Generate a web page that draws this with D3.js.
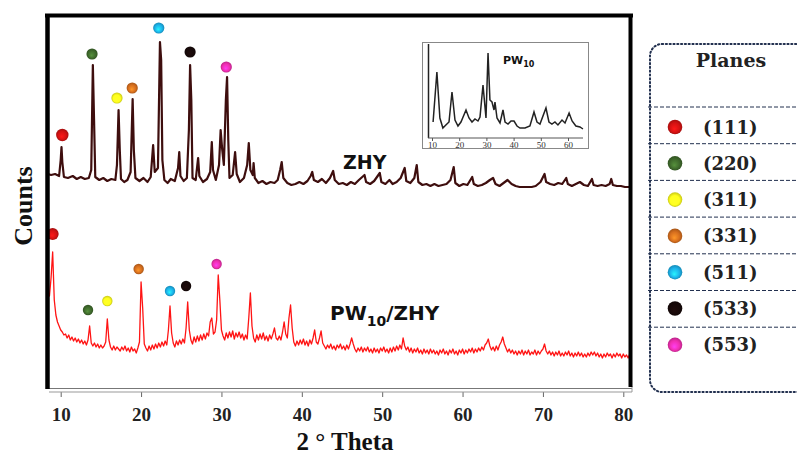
<!DOCTYPE html>
<html><head><meta charset="utf-8">
<script src="https://cdn.jsdelivr.net/npm/d3@7"></script>
<style>body{margin:0;background:#fff}svg{display:block}</style>
</head><body><svg id="c" width="797" height="457"></svg>
<script>
// ---------- DATA ----------
const planes = ["(111)","(220)","(311)","(331)","(511)","(533)","(553)"];
const planeColors = ["#d41212","#3f6a2c","#ffff1e","#d66e1e","#1cb2ea","#170909","#f02eb0"];
const xTicks = [10,20,30,40,50,60,70,80];
const insetTicks = [10,20,30,40,50,60];
const seriesNames = ["ZHY","PW10/ZHY"];

// ZHY pattern: [2θ, counts]
const zhy = [[8.3,214],[8.8,213],[9.3,214],[9.8,212],[10.0,228],[10.1,241],[10.2,226],[10.4,211],[10.9,210],[11.5,212],[12.0,209],[12.5,211],[13.0,209],[13.5,210],[13.8,218],[14.0,323],[14.15,268],[14.3,211],[14.8,208],[15.3,210],[15.8,207],[16.3,209],[16.8,208],[17.0,223],[17.2,278],[17.35,238],[17.5,209],[17.9,206],[18.3,208],[18.7,216],[18.95,289],[19.1,238],[19.3,210],[19.8,207],[20.3,210],[20.8,206],[21.2,211],[21.5,243],[21.7,216],[22.1,220],[22.35,346],[22.5,328],[22.65,228],[22.9,208],[23.3,205],[23.7,209],[24.2,207],[24.6,220],[24.75,236],[24.9,212],[25.3,207],[25.7,210],[25.95,258],[26.1,323],[26.25,288],[26.4,210],[26.8,208],[27.0,223],[27.1,230],[27.25,212],[27.7,206],[28.2,209],[28.6,216],[28.8,246],[28.95,218],[29.3,208],[29.7,223],[29.9,258],[30.1,238],[30.3,223],[30.55,288],[30.7,311],[30.85,248],[31.0,210],[31.4,213],[31.7,236],[31.9,214],[32.3,206],[32.8,210],[33.2,223],[33.4,245],[33.6,218],[33.9,213],[34.0,225],[34.15,210],[34.6,205],[35.1,207],[35.6,204],[36.1,206],[36.6,205],[37.0,208],[37.3,218],[37.5,226],[37.7,210],[38.2,205],[38.7,203],[39.2,204],[39.7,206],[40.2,204],[40.7,207],[41.1,212],[41.3,216],[41.5,208],[42.0,206],[42.5,209],[43.0,205],[43.5,210],[43.9,217],[44.1,208],[44.6,204],[45.1,205],[45.6,203],[46.1,206],[46.6,204],[47.1,208],[47.8,213],[48.0,206],[48.5,204],[49.0,207],[49.7,215],[49.9,206],[50.4,204],[50.9,208],[51.3,204],[51.8,206],[52.3,210],[52.8,220],[53.0,207],[53.5,205],[54.0,210],[54.3,223],[54.5,206],[55.0,203],[55.5,204],[56.0,202],[56.5,204],[57.0,202],[57.5,203],[58.0,204],[58.5,208],[58.9,221],[59.1,205],[59.6,202],[60.1,204],[60.6,203],[61.2,211],[61.4,204],[61.9,202],[62.4,203],[62.9,205],[63.4,208],[63.8,210],[64.1,204],[64.6,202],[65.1,205],[65.6,208],[66.1,204],[66.6,202],[67.1,201],[67.6,201],[68.1,201],[68.6,201],[69.1,202],[69.7,206],[70.2,214],[70.4,206],[70.9,204],[71.4,203],[71.9,205],[72.4,204],[72.9,210],[73.1,204],[73.6,202],[74.1,204],[74.6,206],[75.1,203],[75.6,202],[76.1,209],[76.3,203],[76.8,202],[77.3,203],[77.8,202],[78.3,204],[78.5,209],[78.7,203],[79.2,202],[79.7,202],[80.2,201],[80.7,201],[81.3,202]];

// PW10/ZHY pattern: [2θ, counts]
const pwzhy = [[8.2,80],[8.4,95],[8.6,92],[8.8,110],[9.0,136],[9.2,88],[9.4,73],[9.6,66],[9.8,62],[10.0,58],[10.2,56],[10.4,53],[10.6,54],[10.8,50],[11.0,53],[11.2,48],[11.4,51],[11.6,47],[11.8,50],[12.0,46],[12.2,49],[12.4,45],[12.6,48],[12.8,44],[13.0,47],[13.2,43],[13.4,48],[13.6,62],[13.8,45],[14.0,42],[14.2,45],[14.4,41],[14.6,44],[14.8,40],[15.0,43],[15.2,40],[15.4,42],[15.6,46],[15.8,69],[16.0,48],[16.2,41],[16.4,38],[16.6,42],[16.8,38],[17.0,41],[17.2,39],[17.4,37],[17.6,41],[17.8,38],[18.0,42],[18.2,37],[18.4,40],[18.6,36],[18.8,41],[19.0,37],[19.2,39],[19.4,35],[19.6,40],[19.8,46],[20.0,106],[20.2,80],[20.4,44],[20.6,40],[20.8,37],[21.0,42],[21.2,38],[21.4,43],[21.6,39],[21.8,44],[22.0,40],[22.2,45],[22.4,41],[22.6,46],[22.8,42],[23.0,47],[23.2,43],[23.4,58],[23.6,82],[23.8,55],[24.0,45],[24.2,41],[24.4,47],[24.6,43],[24.8,48],[25.0,44],[25.2,49],[25.4,45],[25.6,60],[25.8,86],[26.0,58],[26.2,48],[26.4,44],[26.6,51],[26.8,46],[27.0,52],[27.2,47],[27.4,53],[27.6,48],[27.8,54],[28.0,49],[28.2,55],[28.4,52],[28.6,66],[28.8,70],[29.0,54],[29.2,56],[29.4,68],[29.6,113],[29.8,88],[30.0,58],[30.2,52],[30.4,48],[30.6,55],[30.8,50],[31.0,56],[31.2,51],[31.4,57],[31.6,49],[31.8,55],[32.0,51],[32.2,56],[32.4,50],[32.6,54],[32.8,48],[33.0,53],[33.2,49],[33.4,70],[33.6,95],[33.8,62],[34.0,50],[34.2,46],[34.4,53],[34.6,48],[34.8,54],[35.0,49],[35.2,55],[35.4,48],[35.6,52],[35.8,47],[36.0,53],[36.2,49],[36.4,54],[36.6,60],[36.8,50],[37.0,48],[37.2,52],[37.4,48],[37.6,56],[37.8,66],[38.0,54],[38.2,50],[38.4,70],[38.6,83],[38.8,60],[39.0,46],[39.2,42],[39.4,47],[39.6,43],[39.8,48],[40.0,44],[40.2,49],[40.4,43],[40.6,47],[40.8,42],[41.0,48],[41.2,44],[41.4,50],[41.6,58],[41.8,46],[42.0,44],[42.2,50],[42.4,57],[42.6,45],[42.8,42],[43.0,39],[43.2,43],[43.4,40],[43.6,44],[43.8,39],[44.0,42],[44.2,38],[44.4,43],[44.6,40],[44.8,44],[45.0,39],[45.2,42],[45.4,38],[45.6,43],[45.8,39],[46.0,44],[46.2,50],[46.4,44],[46.6,39],[46.8,36],[47.0,40],[47.2,37],[47.4,41],[47.6,36],[47.8,40],[48.0,37],[48.2,41],[48.4,36],[48.6,39],[48.8,35],[49.0,40],[49.2,36],[49.4,39],[49.6,35],[49.8,40],[50.0,37],[50.2,41],[50.4,36],[50.6,39],[50.8,35],[51.0,40],[51.2,36],[51.4,41],[51.6,37],[51.8,42],[52.0,38],[52.2,43],[52.4,39],[52.6,50],[52.8,42],[53.0,38],[53.2,41],[53.4,36],[53.6,40],[53.8,35],[54.0,39],[54.2,36],[54.4,40],[54.6,35],[54.8,38],[55.0,34],[55.2,39],[55.4,35],[55.6,38],[55.8,34],[56.0,39],[56.2,35],[56.4,38],[56.6,34],[56.8,37],[57.0,33],[57.2,38],[57.4,35],[57.6,39],[57.8,34],[58.0,37],[58.2,33],[58.4,38],[58.6,35],[58.8,39],[59.0,34],[59.2,37],[59.4,33],[59.6,38],[59.8,35],[60.0,39],[60.2,34],[60.4,38],[60.6,35],[60.8,39],[61.0,36],[61.2,40],[61.4,35],[61.6,39],[61.8,36],[62.0,40],[62.2,37],[62.4,41],[62.6,38],[62.8,43],[63.0,45],[63.2,49],[63.4,42],[63.6,38],[63.8,41],[64.0,37],[64.2,42],[64.4,38],[64.6,43],[64.8,46],[65.0,51],[65.2,44],[65.4,40],[65.6,36],[65.8,39],[66.0,35],[66.2,38],[66.4,34],[66.6,37],[66.8,33],[67.0,37],[67.2,34],[67.4,38],[67.6,33],[67.8,37],[68.0,34],[68.2,38],[68.4,33],[68.6,36],[68.8,34],[69.0,38],[69.2,33],[69.4,37],[69.6,34],[69.8,37],[70.0,39],[70.2,44],[70.4,37],[70.6,34],[70.8,37],[71.0,33],[71.2,36],[71.4,32],[71.6,36],[71.8,33],[72.0,37],[72.2,32],[72.4,35],[72.6,32],[72.8,36],[73.0,33],[73.2,37],[73.4,32],[73.6,35],[73.8,31],[74.0,35],[74.2,32],[74.4,36],[74.6,32],[74.8,35],[75.0,31],[75.2,34],[75.4,31],[75.6,35],[75.8,32],[76.0,36],[76.2,33],[76.4,36],[76.6,32],[76.8,35],[77.0,31],[77.2,34],[77.4,30],[77.6,34],[77.8,31],[78.0,35],[78.2,32],[78.4,34],[78.6,30],[78.8,34],[79.0,31],[79.2,35],[79.4,32],[79.6,34],[79.8,30],[80.0,34],[80.2,31],[80.4,33],[80.6,30],[80.8,34],[81.0,31]];

// Inset PW10 pattern: [2θ, counts]
const pw10 = [[10.4,16],[11.8,66],[12.9,20],[14.0,10],[15.1,13],[16.25,16],[17.35,46],[18.45,18],[19.55,12],[20.65,16],[22.5,28],[23.6,20],[24.7,16],[25.8,19],[26.9,17],[27.65,21],[28.75,53],[29.85,20],[30.6,85],[31.3,38],[32.05,36],[32.8,28],[33.15,36],[33.9,20],[35.0,15],[36.1,28],[36.85,16],[37.95,14],[39.05,17],[40.15,17],[41.25,12],[42.35,10],[44.2,10],[46.0,12],[47.5,26],[48.6,16],[49.7,14],[51.9,30],[53.0,16],[54.1,14],[55.2,16],[56.3,13],[57.8,18],[58.9,15],[60.4,25],[61.5,17],[62.9,12],[64.4,11],[65.5,9]];

// plane marker positions [2θ, counts]
const zhyMarkers = [[10.2,253],[13.9,334],[17.0,290],[18.9,300],[22.2,360],[26.1,336],[30.6,321]];
const pwMarkers = [[9.0,154],[13.4,78],[15.8,87],[19.7,119],[23.6,97],[25.6,102],[29.4,124]];

// ---------- DRAW ----------
const svg = d3.select("#c");
const defs = svg.append("defs");
planeColors.forEach((c,i)=>{
  const g = defs.append("radialGradient").attr("id","g"+i).attr("cx","50%").attr("cy","50%").attr("r","50%").attr("fx","45%").attr("fy","65%");
  g.append("stop").attr("offset","0%").attr("stop-color",d3.color(c).brighter(0.9));
  g.append("stop").attr("offset","65%").attr("stop-color",c);
  g.append("stop").attr("offset","100%").attr("stop-color",d3.color(c).darker(0.7));
});
defs.append("clipPath").attr("id","plotclip").append("rect").attr("x",49).attr("y",17).attr("width",580).attr("height",371);

const x = d3.scaleLinear().domain([10,80]).range([60.7,623.3]);
const y = d3.scaleLinear().domain([0,373]).range([388,15]);

const line = d3.line().x(d=>x(d[0])).y(d=>y(d[1]));
const plot = svg.append("g").attr("clip-path","url(#plotclip)");
plot.append("path").datum(pwzhy).attr("d",line).attr("fill","none").attr("stroke","#ff1414").attr("stroke-width",1.3).attr("stroke-linejoin","round");
plot.append("path").datum(zhy).attr("d",line).attr("fill","none").attr("stroke","#3e0e0e").attr("stroke-width",2.2).attr("stroke-linejoin","round");

// markers
svg.append("g").selectAll("circle").data(zhyMarkers).join("circle")
  .attr("cx",d=>x(d[0])).attr("cy",d=>y(d[1])).attr("r",(d,i)=>i===0?6.2:5.6).attr("fill",(d,i)=>`url(#g${i})`);
svg.append("g").selectAll("circle").data(pwMarkers).join("circle")
  .attr("cx",d=>x(d[0])).attr("cy",d=>y(d[1])).attr("r",(d,i)=>i===0?6:5.2).attr("fill",(d,i)=>`url(#g${i})`);

// axis
const ax = svg.append("g").attr("transform","translate(0,392)")
  .call(d3.axisBottom(x).tickValues(xTicks).tickSize(5).tickPadding(11).tickFormat(d3.format("d")));
ax.select(".domain").remove();
ax.selectAll(".tick line").attr("stroke","#666");
ax.selectAll("text").attr("font-family","Liberation Serif").attr("font-weight","bold").attr("font-size",19).attr("fill","#222");

// frame
svg.append("line").attr("x1",49).attr("x2",632).attr("y1",388.5).attr("y2",388.5).attr("stroke","#777").attr("stroke-width",1);
svg.append("line").attr("x1",49).attr("x2",632).attr("y1",392).attr("y2",392).attr("stroke","#999").attr("stroke-width",1);
svg.append("line").attr("x1",632).attr("x2",632).attr("y1",386).attr("y2",392).attr("stroke","#999").attr("stroke-width",1);
svg.append("line").attr("x1",45).attr("x2",633).attr("y1",15.5).attr("y2",15.5).attr("stroke","#000").attr("stroke-width",4);
svg.append("line").attr("x1",47.5).attr("x2",47.5).attr("y1",14).attr("y2",389).attr("stroke","#000").attr("stroke-width",4.5);
svg.append("line").attr("x1",630.5).attr("x2",630.5).attr("y1",14).attr("y2",387).attr("stroke","#000").attr("stroke-width",4);

// axis titles
svg.append("text").attr("x",345).attr("y",450).attr("text-anchor","middle")
  .attr("font-family","Liberation Serif").attr("font-weight","bold").attr("font-size",25).attr("fill","#111").text("2 ° Theta");
svg.append("text").attr("transform","translate(32,206) rotate(-90)").attr("text-anchor","middle")
  .attr("font-family","Liberation Serif").attr("font-weight","bold").attr("font-size",26).attr("fill","#111").text("Counts");

// series labels
svg.append("text").attr("x",343).attr("y",169).attr("font-family","DejaVu Sans").attr("font-weight","bold").attr("font-size",19).attr("fill","#111").text(seriesNames[0]);
const t2 = svg.append("text").attr("x",330).attr("y",320).attr("font-family","DejaVu Sans").attr("font-weight","bold").attr("font-size",20).attr("fill","#111");
t2.append("tspan").text("PW");
t2.append("tspan").attr("font-size",14).attr("dy",6).text("10");
t2.append("tspan").attr("dy",-6).text("/ZHY");

// inset
const ins = svg.append("g");
ins.append("rect").attr("x",422.5).attr("y",42.5).attr("width",166).attr("height",106).attr("fill","#fff").attr("stroke","#888");
const xi = d3.scaleLinear().domain([10,60]).range([432,568]);
const yi = d3.scaleLinear().domain([0,94]).range([138,44]);
ins.append("path").datum(pw10).attr("d",d3.line().x(d=>xi(d[0])).y(d=>yi(d[1]))).attr("fill","none").attr("stroke","#222").attr("stroke-width",1.5);
ins.append("line").attr("x1",428.5).attr("x2",428.5).attr("y1",44).attr("y2",138).attr("stroke","#222").attr("stroke-width",1.5);
ins.append("line").attr("x1",428).attr("x2",583).attr("y1",138).attr("y2",138).attr("stroke","#555").attr("stroke-width",1);
const iax = ins.append("g").attr("transform","translate(0,138)")
  .call(d3.axisBottom(xi).tickValues(insetTicks).tickSize(3).tickPadding(1).tickFormat(d3.format("d")));
iax.select(".domain").remove();
iax.selectAll(".tick line").attr("stroke","#555");
iax.selectAll("text").attr("font-family","Liberation Serif").attr("font-size",9).attr("fill","#333");
const it = ins.append("text").attr("x",503).attr("y",64).attr("font-family","DejaVu Sans").attr("font-weight","bold").attr("font-size",11).attr("fill","#111");
it.append("tspan").text("PW");
it.append("tspan").attr("font-size",8).attr("dy",3).text("10");

// legend
const lg = svg.append("g");
lg.append("rect").attr("x",650).attr("y",44).attr("width",170).attr("height",348).attr("rx",12)
  .attr("fill","none").attr("stroke","#22304f").attr("stroke-width",2).attr("stroke-dasharray","1.2,2.6").attr("stroke-linecap","round");
lg.append("text").attr("x",731).attr("y",67).attr("text-anchor","middle")
  .attr("font-family","DejaVu Serif").attr("font-weight","bold").attr("font-size",19).attr("fill","#222").text("Planes");
const rowY = d3.scaleLinear().domain([0,1]).range([127,163.3]);
const sepY = d3.scaleLinear().domain([0,1]).range([107,143.7]);
lg.selectAll("line.sep").data(planes).join("line").attr("class","sep")
  .attr("x1",648).attr("x2",797).attr("y1",(d,i)=>sepY(i)).attr("y2",(d,i)=>sepY(i))
  .attr("stroke","#22304f").attr("stroke-width",1).attr("stroke-dasharray","4,2");
lg.selectAll("circle").data(planes).join("circle")
  .attr("cx",675).attr("cy",(d,i)=>rowY(i)).attr("r",7.3).attr("fill",(d,i)=>`url(#g${i})`);
lg.selectAll("text.pl").data(planes).join("text").attr("class","pl")
  .attr("x",703).attr("y",(d,i)=>rowY(i)+6.5)
  .attr("font-family","DejaVu Serif").attr("font-weight","bold").attr("font-size",18).attr("fill","#222").text(d=>d);
</script></body></html>
